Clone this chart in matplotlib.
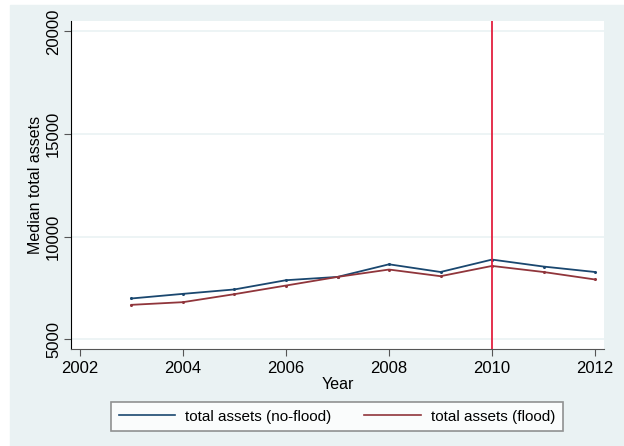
import matplotlib
matplotlib.use("Agg")
import matplotlib.pyplot as plt
from matplotlib.patches import Rectangle
from matplotlib.lines import Line2D

plt.rcParams['font.family'] = ['Liberation Sans', 'DejaVu Sans']

years = [2003, 2004, 2005, 2006, 2007, 2008, 2009, 2010, 2011, 2012]
no_flood = [6990, 7215, 7430, 7880, 8040, 8655, 8280, 8885, 8545, 8280]
flood = [6680, 6810, 7200, 7620, 8040, 8400, 8075, 8575, 8280, 7915]
event_year = 2010
xticks = [2002, 2004, 2006, 2008, 2010, 2012]
yticks = [5000, 10000, 15000, 20000]
labels = ['total assets (no-flood)', 'total assets (flood)']
colors = ['#1a476f', '#90353b']

W, H = 624, 446
fig = plt.figure(figsize=(W / 100, H / 100), dpi=100)
fig.patch.set_facecolor('white')
fig.patches.append(Rectangle((10 / W, 0), (W - 10) / W, (H - 5) / H,
                             transform=fig.transFigure, color='#eaf2f3', zorder=-10))

ax = fig.add_axes([70.7 / W, 1 - 349.3 / H, 533.6 / W, 328.6 / H])
ax.set_facecolor('white')

ax.plot(years, no_flood, color=colors[0], lw=1.3, marker='o', ms=1.2)
ax.plot(years, flood, color=colors[1], lw=1.3, marker='o', ms=1.2)
ax.axvline(event_year, color='#e3203f', lw=1.3)

ax.set_xlim(2001.82, 2012.18)
ax.set_ylim(4513, 20526)
ax.set_xticks(xticks)
ax.set_yticks(yticks)
ax.set_yticklabels([str(v) for v in yticks], rotation=90, va='center')
ax.tick_params(axis='both', labelsize=12, length=5, color='#555555', direction='out')
ax.tick_params(axis='y', pad=2)
ax.grid(axis='y', color='#eaf2f3', lw=1.2)
ax.set_axisbelow(True)

for s in ['top', 'right']:
    ax.spines[s].set_visible(False)
ax.spines['left'].set_color('black')
ax.spines['bottom'].set_color('#555555')

ax.set_xlabel('Year', fontsize=11.5, labelpad=1)
ax.set_ylabel('Median total assets', fontsize=11.5, labelpad=2)

handles = [Line2D([], [], color=c, lw=1.2) for c in colors]
leg = fig.legend(handles, labels, loc='center', bbox_to_anchor=(337 / W, 1 - 416.5 / H),
                 ncol=2, fontsize=11, frameon=True, fancybox=False, handlelength=3.7,
                 columnspacing=2.15, handletextpad=0.65, borderpad=0.5)
leg.get_frame().set_edgecolor('#777777')
leg.get_frame().set_linewidth(1.2)

fig.savefig('out.png', dpi=100)
